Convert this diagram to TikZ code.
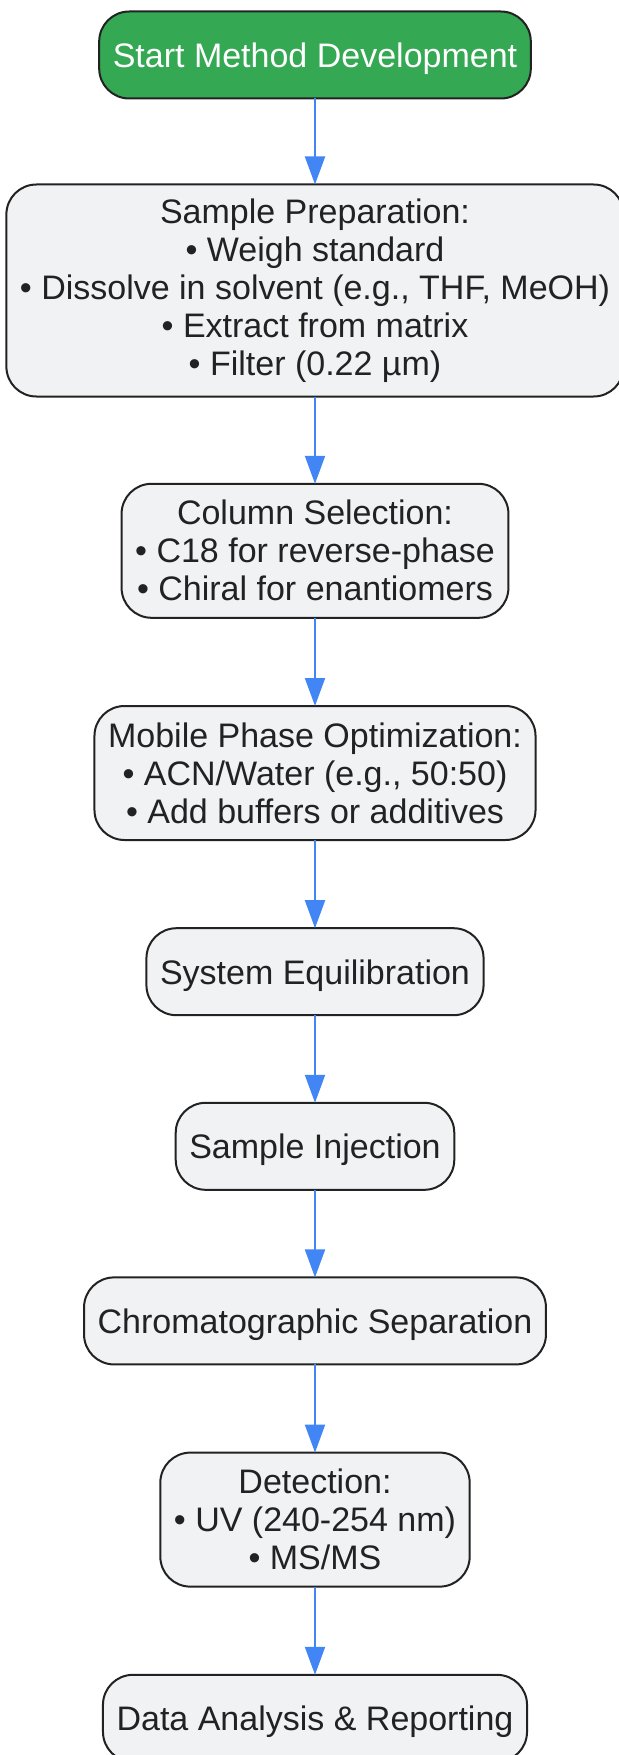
\documentclass[tikz,border=0pt]{standalone}
\usepackage{fontspec}
\setmainfont{Liberation Sans}
\usepackage{xcolor}
\usepackage{tikz}
\usetikzlibrary{positioning, arrows.meta}
\definecolor{startgreen}{RGB}{52,168,83}
\definecolor{stepfill}{RGB}{241,242,244}
\definecolor{stepdraw}{RGB}{34,34,34}
\definecolor{flowblue}{RGB}{66,133,244}
\definecolor{textdark}{RGB}{34,34,34}

\begin{document}
\begin{tikzpicture}[x=0.5pt, y=-0.5pt,
    stepbox/.style={rectangle, rounded corners=15pt, draw=stepdraw, fill=stepfill, line width=1pt,
        align=center, text=textdark, font=\fontsize{17pt}{19pt}\selectfont,
        inner xsep=6.8pt, inner ysep=2pt, outer sep=0pt},
    onerow/.style={minimum height=43.5pt, text depth=0pt},
    threerow/.style={minimum height=67pt},
    fiverow/.style={minimum height=106pt},
    startbox/.style={stepbox, onerow, fill=startgreen, text=white},
    flow/.style={-{Triangle[length=14pt, width=10pt]}, line width=1pt, flowblue}
]
    \useasboundingbox (0,0) rectangle (619,1755);

    % === START ===
    \node[startbox] (start) at (315, 55) {Start Method Development};

    % === PREPARATION ===
    \node[stepbox, fiverow] (prep) at (315, 290.5) {
        Sample Preparation:\\
        • Weigh standard\\
        • Dissolve in solvent (e.g., THF, MeOH)\\
        • Extract from matrix\\
        • Filter (0.22 µm)
    };

    % === COLUMN ===
    \node[stepbox, threerow] (column) at (315, 550.8) {
        Column Selection:\\
        • C18 for reverse-phase\\
        • Chiral for enantiomers
    };

    % === MOBILE PHASE ===
    \node[stepbox, threerow] (mobile) at (315, 773) {
        Mobile Phase Optimization:\\
        • ACN/Water (e.g., 50:50)\\
        • Add buffers or additives
    };

    % === RUN ===
    \node[stepbox, onerow] (equil) at (315, 971.7) {System Equilibration};
    \node[stepbox, onerow] (inject) at (315, 1146.3) {Sample Injection};
    \node[stepbox, onerow] (separ) at (315, 1320.9) {Chromatographic Separation};

    % === DETECTION ===
    \node[stepbox, threerow] (detect) at (315, 1519.6) {
        Detection:\\
        • UV (240-254 nm)\\
        • MS/MS
    };

    % === REPORT ===
    \node[stepbox, onerow] (report) at (315, 1718.3) {Data Analysis \& Reporting};

    % Flèches
    \draw[flow] (start) -- (prep);
    \draw[flow] (prep) -- (column);
    \draw[flow] (column) -- (mobile);
    \draw[flow] (mobile) -- (equil);
    \draw[flow] (equil) -- (inject);
    \draw[flow] (inject) -- (separ);
    \draw[flow] (separ) -- (detect);
    \draw[flow] (detect) -- (report);

\end{tikzpicture}
\end{document}
